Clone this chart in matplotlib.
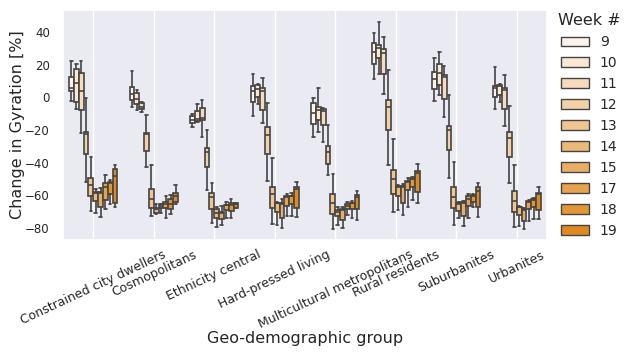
import matplotlib
matplotlib.use("Agg")
import matplotlib.pyplot as plt
import matplotlib.patches as mpatches
import seaborn as sns
import numpy as np

groups = ["Constrained city dwellers", "Cosmopolitans", "Ethnicity central",
          "Hard-pressed living", "Multicultural metropolitans", "Rural residents",
          "Suburbanites", "Urbanites"]
weeks = [9, 10, 11, 12, 13, 14, 15, 17, 18, 19]

whislo = [
    [-2.1, -7.0, -22.0, -51.7, -69.4, -70.6, -73.5, -68.6, -65.5, -67.4],
    [-5.7, -7.8, -9.2, -42.5, -72.5, -71.7, -71.0, -73.7, -71.5, -65.3],
    [-18.4, -15.0, -24.5, -56.8, -76.8, -79.6, -78.2, -74.1, -73.7, -68.0],
    [-11.5, -4.1, -15.9, -51.3, -77.8, -78.2, -80.2, -72.5, -72.5, -73.1],
    [-24.1, -21.4, -27.6, -47.6, -80.8, -78.2, -80.2, -72.1, -74.1, -75.1],
    [11.0, 14.1, 2.0, -41.5, -70.1, -69.0, -72.1, -67.0, -62.9, -64.5],
    [-2.1, 1.4, -12.2, -49.6, -78.2, -74.1, -78.8, -74.1, -67.4, -73.5],
    [-7.3, -3.1, -17.4, -52.7, -79.6, -78.8, -80.8, -75.7, -74.7, -74.7],
]
q1 = [
    [3.9, -3.1, -8.0, -34.7, -60.4, -63.7, -67.4, -62.7, -59.0, -64.9],
    [-1.7, -4.3, -7.2, -32.9, -68.0, -71.0, -68.0, -68.0, -68.6, -64.3],
    [-15.5, -14.3, -13.9, -42.9, -68.6, -73.7, -74.5, -69.0, -69.6, -67.6],
    [-3.1, 0.4, -7.8, -34.9, -67.6, -70.1, -74.1, -66.6, -65.5, -68.0],
    [-16.5, -13.9, -17.0, -41.0, -71.5, -72.7, -75.1, -68.6, -68.6, -68.6],
    [20.2, 23.9, 14.1, -20.0, -59.2, -60.4, -64.9, -56.8, -55.1, -58.2],
    [5.1, 7.5, -1.2, -32.3, -68.0, -69.6, -72.7, -66.6, -64.3, -67.4],
    [0.0, 1.4, -7.3, -36.4, -70.4, -72.1, -75.6, -68.6, -67.0, -69.0],
]
med = [
    [5.5, 8.6, 3.9, -22.7, -53.7, -58.6, -58.6, -55.0, -52.7, -48.2],
    [1.8, -1.2, -5.7, -22.3, -62.5, -68.4, -66.4, -65.3, -65.3, -60.4],
    [-13.9, -13.5, -12.9, -33.2, -61.2, -70.7, -70.6, -66.2, -66.0, -65.3],
    [3.9, 4.9, 4.0, -23.1, -59.4, -65.0, -65.3, -60.8, -60.2, -56.2],
    [-9.8, -7.8, -8.3, -33.3, -64.5, -70.0, -69.0, -66.6, -65.0, -61.2],
    [27.9, 30.0, 27.3, -5.7, -50.2, -55.0, -55.0, -52.0, -50.2, -46.2],
    [11.0, 14.7, 12.5, -20.0, -61.2, -65.4, -65.0, -62.5, -60.6, -57.2],
    [5.5, 7.0, 4.5, -24.7, -63.3, -67.4, -69.0, -64.0, -63.2, -59.0],
]
q3 = [
    [12.6, 17.1, 14.7, -21.1, -49.6, -58.0, -58.0, -52.6, -51.9, -44.1],
    [6.1, 2.8, -3.7, -21.7, -56.3, -68.0, -65.3, -63.9, -62.5, -58.8],
    [-11.5, -8.2, -6.7, -31.2, -58.8, -68.4, -70.0, -66.0, -64.9, -64.5],
    [6.9, 7.5, 5.5, -18.0, -55.1, -64.9, -64.9, -60.2, -60.2, -55.1],
    [-3.7, -6.1, -7.3, -29.8, -59.4, -69.0, -68.6, -65.3, -64.5, -59.8],
    [33.4, 32.0, 29.6, -1.7, -44.5, -54.5, -54.1, -51.1, -49.6, -44.9],
    [15.7, 20.2, 13.7, -17.4, -54.7, -64.9, -64.3, -60.4, -59.8, -55.1],
    [6.9, 7.5, 5.5, -21.4, -57.2, -67.0, -68.6, -63.3, -62.5, -58.4],
]
whishi = [
    [22.2, 20.2, 22.2, -0.6, -36.7, -55.9, -55.4, -47.4, -50.4, -41.5],
    [16.1, 4.5, -3.1, -10.8, -41.5, -65.3, -65.3, -60.2, -59.8, -53.7],
    [-10.2, -4.1, -1.7, -20.0, -52.7, -67.0, -66.6, -63.9, -62.5, -64.5],
    [14.1, 8.1, 12.0, -3.7, -37.4, -64.3, -62.5, -59.4, -58.8, -52.1],
    [-0.6, 5.5, -6.4, -17.0, -47.0, -67.4, -67.0, -63.9, -63.3, -57.2],
    [39.2, 46.3, 36.7, 16.7, -25.7, -54.0, -53.1, -49.6, -48.6, -41.0],
    [23.9, 27.6, 19.2, 1.4, -39.4, -63.9, -63.3, -59.2, -59.2, -52.7],
    [18.4, 8.1, 13.7, -5.3, -41.5, -66.6, -68.0, -62.9, -61.8, -55.1],
]

sns.set_theme(style="darkgrid")
plt.rcParams['font.family'] = ['DejaVu Sans']

c_light = np.array([253, 244, 233]) / 255.0
c_dark = np.array([223, 138, 32]) / 255.0
colors = [tuple(c_light + (c_dark - c_light) * t) for t in np.linspace(0, 1, len(weeks))]
line_c = "#444444"

fig = plt.figure(figsize=(6.31, 3.58), dpi=100)
ax = fig.add_axes([63/631, 1 - 240/358, 484/631, 230/358])

nh = len(weeks)
slot = 0.8 / nh
for gi in range(len(groups)):
    stats, pos = [], []
    for wi in range(nh):
        stats.append(dict(whislo=whislo[gi][wi], q1=q1[gi][wi], med=med[gi][wi],
                          q3=q3[gi][wi], whishi=whishi[gi][wi], fliers=[]))
        pos.append(gi - 0.4 + slot / 2 + slot * wi)
    bp = ax.bxp(stats, positions=pos, widths=slot, patch_artist=True,
                showfliers=False, capwidths=slot * 0.5, manage_ticks=False,
                boxprops=dict(edgecolor=line_c, linewidth=1.2),
                whiskerprops=dict(color=line_c, linewidth=1.2),
                capprops=dict(color=line_c, linewidth=1.2),
                medianprops=dict(color=line_c, linewidth=1.2))
    for patch, c in zip(bp['boxes'], colors):
        patch.set_facecolor(c)

ax.set_xlim(-0.5, len(groups) - 0.5)
ax.set_ylim(-87.4, 53.5)
ax.set_xticks(range(len(groups)))
ax.set_xticklabels(groups, rotation=25, ha='center', fontsize=9)
ax.set_yticks([-80, -60, -40, -20, 0, 20, 40])
ax.tick_params(axis='y', labelsize=8.5)
ax.tick_params(axis='x', pad=0)
ax.grid(axis='y', visible=False)
ax.grid(axis='x', color='white', linewidth=1.0)
ax.set_axisbelow(True)
ax.set_xlabel("Geo-demographic group", fontsize=11.5, labelpad=0)
ax.set_ylabel("Change in Gyration [%]", fontsize=11.5, labelpad=0)

handles = [mpatches.Patch(facecolor=c, edgecolor=line_c, linewidth=1.0, label=str(w))
           for c, w in zip(colors, weeks)]
leg = ax.legend(handles=handles, title="Week #", loc='upper left',
                bbox_to_anchor=(0.997, 1.04), frameon=False, fontsize=10,
                title_fontsize=11.5, labelspacing=0.5, handlelength=2.0,
                handleheight=0.7)

fig.savefig("out.png", dpi=100)
